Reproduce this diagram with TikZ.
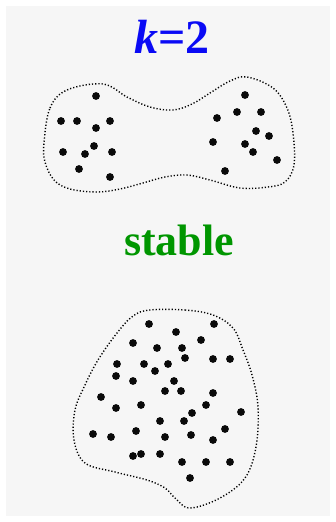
\documentclass[tikz,border=0pt]{standalone}
\usepackage{fontspec}
\setmainfont{Liberation Serif}
\newfontfamily\labelfont{Liberation Serif}
\usepackage{tikz}
\usetikzlibrary{positioning, calc}
\usepackage{xcolor}
\definecolor{cBack}{RGB}{246,246,246}
\definecolor{cTitle}{RGB}{10,10,245}
\definecolor{cStable}{RGB}{0,150,0}
\definecolor{cDot}{RGB}{10,10,10}
\tikzset{
  titlenode/.style={font=\labelfont\fontsize{48}{48}\selectfont\bfseries,
                    text=cTitle, inner sep=0pt, anchor=base},
  statenode/.style={font=\labelfont\fontsize{44}{44}\selectfont\bfseries,
                    text=cStable, inner sep=0pt, anchor=base},
  blob/.style={draw=black, line width=1.4pt, dash pattern=on 1.2pt off 2pt},
  pointdot/.style={fill=cDot, draw=none}
}

\begin{document}
\begin{tikzpicture}[x=1pt, y=-1pt]
  \useasboundingbox (0,0) rectangle (335,522);
  \fill[cBack] (6,6) rectangle (330,516);

  \node[titlenode] (title) at (172,53) {\textit{k}=2};
  \node[statenode] (state) at (179,255) {stable};

  % top configuration: two groups joined in one region
  \draw[blob] plot[smooth cycle, tension=0.6] coordinates {
      (44,143) (50,108) (67,90) (103,84) (127,97) (150,107) (173,110)
      (192,104) (210,93) (230,81) (247,77) (273,88) (287,108) (293,133)
      (294,165) (285,182) (268,187) (240,188) (210,180) (187,175)
      (165,177) (143,183) (120,189) (97,192) (70,189) (54,180) (45,162)};
  \foreach \px/\py in {96/96, 61/121, 77/121, 96/128, 110/121, 94/146,
                       63/152, 85/154, 112/152, 79/169, 110/177,
                       245/95, 237/112, 261/112, 217/118, 256/131, 269/136,
                       213/142, 245/144, 253/152, 277/160, 225/171}
    \fill[pointdot] (\px,\py) circle (3.9);

  % bottom configuration: one region
  \draw[blob] plot[smooth cycle, tension=0.6] coordinates {
      (150,310) (185,310) (213,315) (233,328) (243,350) (252,375)
      (258,407) (256,447) (245,478) (220,498) (190,508) (175,498)
      (165,488) (147,480) (115,472) (85,463) (74,440) (75,410)
      (85,385) (98,360) (117,333) (133,316)};
  \foreach \px/\py in {149/324, 214/324, 176/332, 201/340, 133/343, 157/348,
                       182/348, 185/358, 213/359, 230/359, 117/364, 144/364,
                       168/364, 155/371, 116/376, 133/381, 174/381, 165/391,
                       181/391, 213/393, 101/397, 116/408, 141/405, 206/405,
                       192/413, 241/412, 160/421, 184/421, 136/431, 225/429,
                       93/434, 111/437, 165/437, 191/435, 213/440, 133/456,
                       141/454, 160/454, 182/462, 206/462, 230/462, 190/478}
    \fill[pointdot] (\px,\py) circle (3.9);
\end{tikzpicture}
\end{document}
